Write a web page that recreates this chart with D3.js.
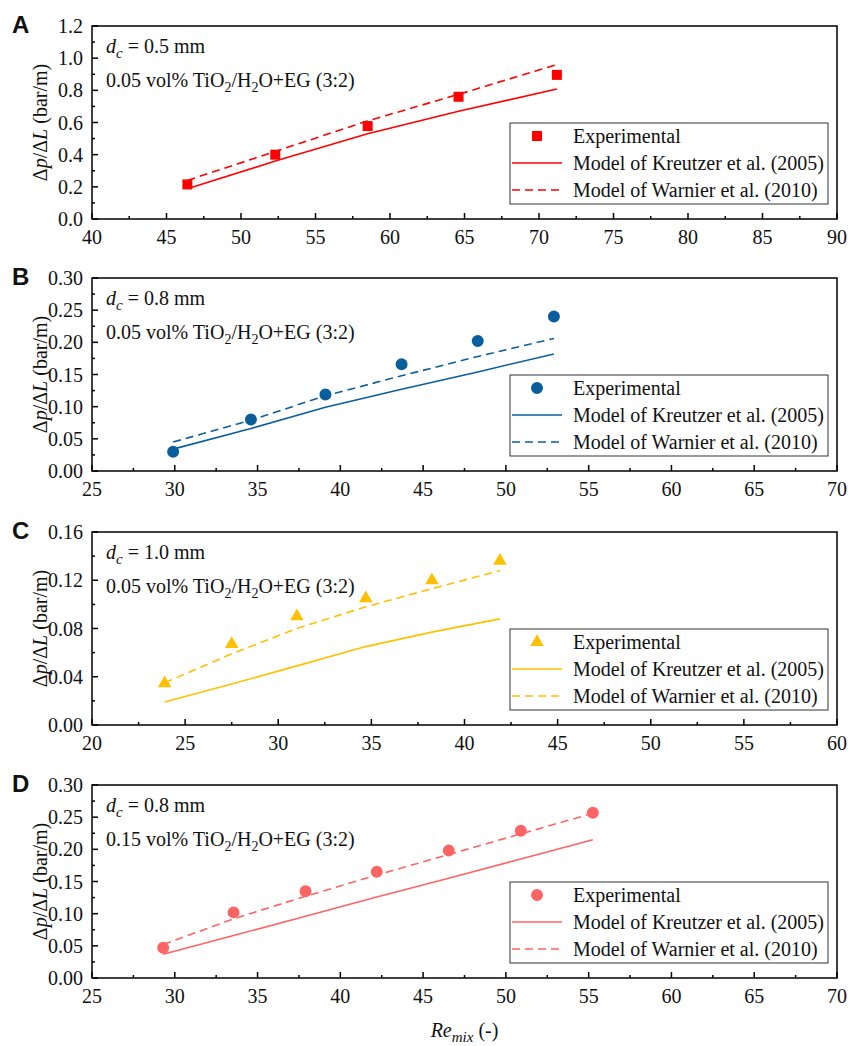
<!DOCTYPE html>
<html>
<head>
<meta charset="utf-8">
<script src="https://cdn.jsdelivr.net/npm/d3@7"></script>
<style>
  body { margin: 0; background: #fff; }
</style>
</head>
<body>
<svg width="848" height="1046" font-family="'Liberation Serif', 'DejaVu Serif', serif"></svg>
<script>
// ---- data ----
var panelLetters = ["A", "B", "C", "D"];
var channelDiam = ["0.5", "0.8", "1.0", "0.8"];
var fluidConc = ["0.05", "0.05", "0.05", "0.15"];
var legendLabels = ["Experimental", "Model of Kreutzer et al. (2005)", "Model of Warnier et al. (2010)"];

var reA = [46.4, 52.3, 58.5, 64.6, 71.2];
var expA = [0.215, 0.40, 0.578, 0.76, 0.896];
var kreutzerA = [0.188, 0.36, 0.53, 0.67, 0.808];
var warnierA = [0.24, 0.42, 0.61, 0.775, 0.96];

var reB = [29.9, 34.6, 39.1, 43.7, 48.3, 52.9];
var expB = [0.030, 0.080, 0.119, 0.166, 0.202, 0.240];
var kreutzerB = [0.034, 0.066, 0.099, 0.127, 0.154, 0.182];
var warnierB = [0.045, 0.079, 0.117, 0.148, 0.178, 0.206];

var reC = [23.9, 27.5, 31.0, 34.7, 38.25, 41.9];
var expC = [0.0345, 0.067, 0.090, 0.105, 0.120, 0.136];
var kreutzerC = [0.019, 0.034, 0.049, 0.065, 0.077, 0.088];
var warnierC = [0.035, 0.059, 0.080, 0.098, 0.113, 0.128];

var reD = [29.3, 33.55, 37.9, 42.2, 46.55, 50.9, 55.25];
var expD = [0.047, 0.102, 0.135, 0.165, 0.198, 0.229, 0.257];
var kreutzerD = [0.037, 0.066, 0.096, 0.126, 0.155, 0.185, 0.215];
var warnierD = [0.052, 0.092, 0.127, 0.160, 0.192, 0.224, 0.256];

var xDomains = [[40, 90], [25, 70], [20, 60], [25, 70]];
var yDomains = [[0, 1.2], [0, 0.30], [0, 0.16], [0, 0.30]];
var yMajor = [0.2, 0.05, 0.04, 0.05];
var yFormat = [".1f", ".2f", ".2f", ".2f"];

var panels = [
	{ re: reA, exp: expA, kre: kreutzerA, war: warnierA, color: "#ff0000", symbol: d3.symbolSquare, size: 100 },
	{ re: reB, exp: expB, kre: kreutzerB, war: warnierB, color: "#0b5e9c", symbol: d3.symbolCircle, size: 113 },
	{ re: reC, exp: expC, kre: kreutzerC, war: warnierC, color: "#ffc000", symbol: d3.symbolTriangle, size: 80 },
	{ re: reD, exp: expD, kre: kreutzerD, war: warnierD, color: "#ff6464", symbol: d3.symbolCircle, size: 113 }
];

var svg = d3.select("svg");
var left = 92, right = 837, plotH = 193;
var tops = [26, 278, 532, 785];
var ink = "#111";

function drawPanel(i) {
	var p = panels[i];
	var top = tops[i], bottom = top + plotH;

	var x = d3.scaleLinear().domain(xDomains[i]).range([left, right]);
	var y = d3.scaleLinear().domain(yDomains[i]).range([bottom, top]);

	var g = svg.append("g");

	// ticks (inward, major + minor)
	var xStep = 5;
	var xMaj = d3.range(xDomains[i][0], xDomains[i][1] + 0.001, xStep);
	var xMin = d3.range(xDomains[i][0] + xStep / 2, xDomains[i][1], xStep);
	var yMaj = d3.range(0, yDomains[i][1] + 1e-6, yMajor[i]);
	var yMin = d3.range(yMajor[i] / 2, yDomains[i][1], yMajor[i]);

	g.selectAll(".xmaj").data(xMaj).enter().append("line")
		.attr("x1", function(d) { return x(d); }).attr("x2", function(d) { return x(d); })
		.attr("y1", bottom).attr("y2", bottom - 6)
		.attr("stroke", "#000").attr("stroke-width", 1.5);
	g.selectAll(".xmin").data(xMin).enter().append("line")
		.attr("x1", function(d) { return x(d); }).attr("x2", function(d) { return x(d); })
		.attr("y1", bottom).attr("y2", bottom - 3)
		.attr("stroke", "#000").attr("stroke-width", 1.5);
	g.selectAll(".ymaj").data(yMaj).enter().append("line")
		.attr("y1", function(d) { return y(d); }).attr("y2", function(d) { return y(d); })
		.attr("x1", left).attr("x2", left + 6)
		.attr("stroke", "#000").attr("stroke-width", 1.5);
	g.selectAll(".ymin").data(yMin).enter().append("line")
		.attr("y1", function(d) { return y(d); }).attr("y2", function(d) { return y(d); })
		.attr("x1", left).attr("x2", left + 3)
		.attr("stroke", "#000").attr("stroke-width", 1.5);

	// tick labels
	g.selectAll(".xlab").data(xMaj).enter().append("text")
		.attr("x", function(d) { return x(d); })
		.attr("y", bottom + 25)
		.attr("text-anchor", "middle")
		.attr("font-size", 20).attr("fill", ink)
		.text(function(d) { return d; });
	var fmt = d3.format(yFormat[i]);
	g.selectAll(".ylab").data(yMaj).enter().append("text")
		.attr("x", left - 9)
		.attr("y", function(d) { return y(d) + 7; })
		.attr("text-anchor", "end")
		.attr("font-size", 20).attr("fill", ink)
		.text(function(d) { return fmt(d); });

	// frame
	g.append("rect")
		.attr("x", left).attr("y", top)
		.attr("width", right - left).attr("height", plotH)
		.attr("fill", "none").attr("stroke", "#000").attr("stroke-width", 1.5);

	// model lines
	var line = d3.line()
		.x(function(d) { return x(d[0]); })
		.y(function(d) { return y(d[1]); });
	g.append("path")
		.datum(d3.zip(p.re, p.kre))
		.attr("d", line)
		.attr("fill", "none").attr("stroke", p.color).attr("stroke-width", 1.6);
	g.append("path")
		.datum(d3.zip(p.re, p.war))
		.attr("d", line)
		.attr("fill", "none").attr("stroke", p.color).attr("stroke-width", 1.6)
		.attr("stroke-dasharray", "8,5");

	// experimental markers
	var sym = d3.symbol().type(p.symbol).size(p.size);
	g.selectAll(".pt").data(d3.zip(p.re, p.exp)).enter().append("path")
		.attr("d", sym)
		.attr("transform", function(d) { return "translate(" + x(d[0]) + "," + y(d[1]) + ")"; })
		.attr("fill", p.color);

	// panel letter
	g.append("text")
		.attr("x", 12).attr("y", top + 7)
		.attr("font-family", "'Liberation Sans', Arial, sans-serif")
		.attr("font-weight", "bold")
		.attr("font-size", 24).attr("fill", ink)
		.text(panelLetters[i]);

	// y axis title
	var yt = g.append("text")
		.attr("transform", "translate(47," + (top + plotH / 2) + ") rotate(-90)")
		.attr("text-anchor", "middle")
		.attr("font-size", 20).attr("fill", ink);
	yt.append("tspan").text("\u0394");
	yt.append("tspan").attr("font-style", "italic").text("p");
	yt.append("tspan").text("/\u0394");
	yt.append("tspan").attr("font-style", "italic").text("L");
	yt.append("tspan").text(" (bar/m)");

	// annotations
	var a1 = g.append("text").attr("x", 106).attr("y", top + 27).attr("font-size", 20).attr("fill", ink);
	a1.append("tspan").attr("font-style", "italic").text("d");
	a1.append("tspan").attr("font-style", "italic").attr("font-size", 15).attr("dy", 5).text("c");
	a1.append("tspan").attr("dy", -5).text(" = " + channelDiam[i] + " mm");

	var a2 = g.append("text").attr("x", 106).attr("y", top + 61).attr("font-size", 20).attr("fill", ink);
	a2.append("tspan").text(fluidConc[i] + " vol% TiO");
	a2.append("tspan").attr("font-size", 14).attr("dy", 5).text("2");
	a2.append("tspan").attr("dy", -5).text("/H");
	a2.append("tspan").attr("font-size", 14).attr("dy", 5).text("2");
	a2.append("tspan").attr("dy", -5).text("O+EG (3:2)");

	// legend
	var lg = g.append("g");
	lg.append("rect")
		.attr("x", 510).attr("y", top + 97)
		.attr("width", 318).attr("height", 81)
		.attr("fill", "#fff").attr("stroke", "#333").attr("stroke-width", 1);
	var rows = [top + 110, top + 137, top + 164];
	lg.append("path")
		.attr("d", sym)
		.attr("transform", "translate(537," + rows[0] + ")")
		.attr("fill", p.color);
	lg.append("line")
		.attr("x1", 512).attr("x2", 562).attr("y1", rows[1]).attr("y2", rows[1])
		.attr("stroke", p.color).attr("stroke-width", 1.6);
	lg.append("line")
		.attr("x1", 512).attr("x2", 562).attr("y1", rows[2]).attr("y2", rows[2])
		.attr("stroke", p.color).attr("stroke-width", 1.6)
		.attr("stroke-dasharray", "8,5");
	lg.selectAll(".lt").data(legendLabels).enter().append("text")
		.attr("x", 573)
		.attr("y", function(d, k) { return rows[k] + 7; })
		.attr("font-size", 20).attr("fill", ink)
		.text(function(d) { return d; });
}

for (var i = 0; i < panels.length; i++) {
	drawPanel(i);
}

// x axis title (bottom panel only)
var xt = svg.append("text")
	.attr("x", (left + right) / 2).attr("y", 1037)
	.attr("text-anchor", "middle")
	.attr("font-size", 20).attr("fill", ink);
xt.append("tspan").attr("font-style", "italic").text("Re");
xt.append("tspan").attr("font-style", "italic").attr("font-size", 15).attr("dy", 5).text("mix");
xt.append("tspan").attr("dy", -5).text(" (-)");
</script>
</body>
</html>
